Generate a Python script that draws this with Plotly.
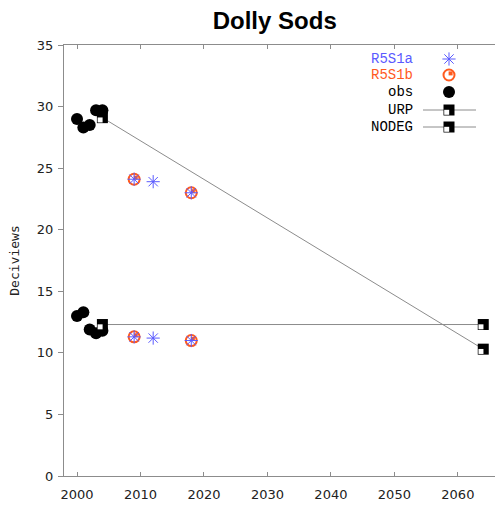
import plotly.graph_objects as go

# Observed haze (deciviews) on the worst and best days
obs_years = [2000, 2001, 2002, 2003, 2004]
obs_worst = [29.0, 28.3, 28.5, 29.7, 29.7]
obs_best = [13.0, 13.3, 11.9, 11.6, 11.8]

# Model runs
r5s1a_years = [2009, 2012, 2018]
r5s1a_worst = [24.1, 23.9, 23.0]
r5s1a_best = [11.3, 11.2, 11.0]

r5s1b_years = [2009, 2018]
r5s1b_worst = [24.1, 23.0]
r5s1b_best = [11.3, 11.0]

# Glide paths
urp_years = [2004, 2064]
urp_values = [29.1, 10.3]
nodeg_years = [2004, 2064]
nodeg_values = [12.3, 12.3]

legend_labels = ["R5S1a", "R5S1b", "obs", "URP", "NODEG"]

BLUE = "#5a5aff"
ORANGE = "#ff5a1e"
GRAY = "#8c8c8c"

W, H = 495, 508
ML, MR, MT, MB = 64, 0, 45, 32
XR = [1997.95, 2065.85]
YR = [0, 35]
px_x = (W - ML - MR) / (XR[1] - XR[0])
px_y = (H - MT - MB) / (YR[1] - YR[0])

fig = go.Figure()

# glide path lines
for xs, ys in [(urp_years, urp_values), (nodeg_years, nodeg_values)]:
    fig.add_trace(go.Scatter(x=xs, y=ys, mode="lines",
                             line=dict(color=GRAY, width=1),
                             hoverinfo="skip", showlegend=False))

# observations
for ys in (obs_worst, obs_best):
    fig.add_trace(go.Scatter(x=obs_years, y=ys, mode="markers",
                             marker=dict(symbol="circle", size=12, color="black"),
                             showlegend=False))


def ring_marker(xs, ys, xref, yref, dx, dy):
    # orange ring with a filled upper-right quarter
    fig.add_trace(go.Scatter(x=xs, y=ys, mode="markers", xaxis=xref, yaxis=yref,
                             marker=dict(symbol="circle-open", size=11, color=ORANGE,
                                         line=dict(color=ORANGE, width=2)),
                             showlegend=False, hoverinfo="skip"))
    fig.add_trace(go.Scatter(x=[v + dx for v in xs], y=[v + dy for v in ys],
                             mode="markers", xaxis=xref, yaxis=yref,
                             marker=dict(symbol="square", size=4, color=ORANGE,
                                         line=dict(width=0)),
                             showlegend=False, hoverinfo="skip"))


def star_marker(xs, ys, xref, yref):
    fig.add_trace(go.Scatter(x=xs, y=ys, mode="markers", xaxis=xref, yaxis=yref,
                             marker=dict(symbol="asterisk-open", size=11, color=BLUE,
                                         line=dict(color=BLUE, width=1)),
                             showlegend=False, hoverinfo="skip"))


# square end markers: black box with a white lower-left corner
def box_markers(xs, ys, xref, yref, sx, sy):
    fig.add_trace(go.Scatter(x=xs, y=ys, mode="markers", xaxis=xref, yaxis=yref,
                             marker=dict(symbol="square", size=11, color="black",
                                         line=dict(width=0)),
                             showlegend=False, hoverinfo="skip"))
    fig.add_trace(go.Scatter(x=[v - 2.3 * sx for v in xs],
                             y=[v - 2.3 * sy for v in ys], mode="markers",
                             xaxis=xref, yaxis=yref,
                             marker=dict(symbol="square", size=5, color="white",
                                         line=dict(width=0)),
                             showlegend=False, hoverinfo="skip"))


for ys in (r5s1b_worst, r5s1b_best):
    ring_marker(r5s1b_years, ys, "x", "y", 1.6 / px_x, 1.6 / px_y)
for ys in (r5s1a_worst, r5s1a_best):
    star_marker(r5s1a_years, ys, "x", "y")

box_markers(urp_years, urp_values, "x", "y", 1 / px_x, 1 / px_y)
box_markers(nodeg_years, nodeg_values, "x", "y", 1 / px_x, 1 / px_y)

# legend, laid out on a pixel-unit overlay axis (y grows downward)
rows_y = [59, 75, 92, 110, 127]
sym_x = 449
star_marker([sym_x], [rows_y[0]], "x2", "y2")
ring_marker([sym_x], [rows_y[1]], "x2", "y2", 1.6, -1.6)
fig.add_trace(go.Scatter(x=[sym_x], y=[rows_y[2]], xaxis="x2", yaxis="y2", mode="markers",
                         marker=dict(symbol="circle", size=12, color="black"),
                         showlegend=False, hoverinfo="skip"))
for ry in rows_y[3:]:
    fig.add_trace(go.Scatter(x=[423, 476], y=[ry, ry], xaxis="x2", yaxis="y2", mode="lines",
                             line=dict(color=GRAY, width=1),
                             showlegend=False, hoverinfo="skip"))
    box_markers([sym_x], [ry], "x2", "y2", 1.0, -1.0)

label_colors = [BLUE, ORANGE, "black", "black", "black"]
for lab, ry, col in zip(legend_labels, rows_y, label_colors):
    fig.add_annotation(x=414, y=ry, xref="x2", yref="y2", text=lab, showarrow=False,
                       xanchor="right", yanchor="middle", borderpad=0,
                       font=dict(family="Liberation Mono", size=14, color=col))

tickfont = dict(family="DejaVu Sans", size=13, color="#222")

fig.update_layout(
    width=W, height=H,
    margin=dict(l=ML, r=MR, t=MT, b=MB),
    paper_bgcolor="white", plot_bgcolor="white",
    title=dict(text="<b>Dolly Sods</b>", x=0.555, xanchor="center", y=0.96, yanchor="middle",
               font=dict(family="Liberation Sans", size=24, color="black")),
    xaxis=dict(range=XR, tickvals=[2000, 2010, 2020, 2030, 2040, 2050, 2060],
               showgrid=False, zeroline=False, showline=True, linecolor=GRAY,
               linewidth=1, ticks="inside", tickcolor=GRAY, ticklen=4,
               mirror="ticks", ticklabelstandoff=6, tickfont=tickfont),
    yaxis=dict(range=YR, tickvals=[0, 5, 10, 15, 20, 25, 30, 35],
               showline=True, linecolor=GRAY, linewidth=1, ticks="outside",
               tickcolor=GRAY, ticklen=5, showgrid=False, zeroline=False,
               ticklabelstandoff=2, tickfont=tickfont,
               title=dict(text="Deciviews", standoff=14,
                          font=dict(family="DejaVu Sans Mono", size=13, color="#222"))),
    xaxis2=dict(range=[ML, W - MR], overlaying="x", visible=False, fixedrange=True),
    yaxis2=dict(range=[H - MB, MT], overlaying="y", visible=False, fixedrange=True),
)

fig.write_html("out.html")
